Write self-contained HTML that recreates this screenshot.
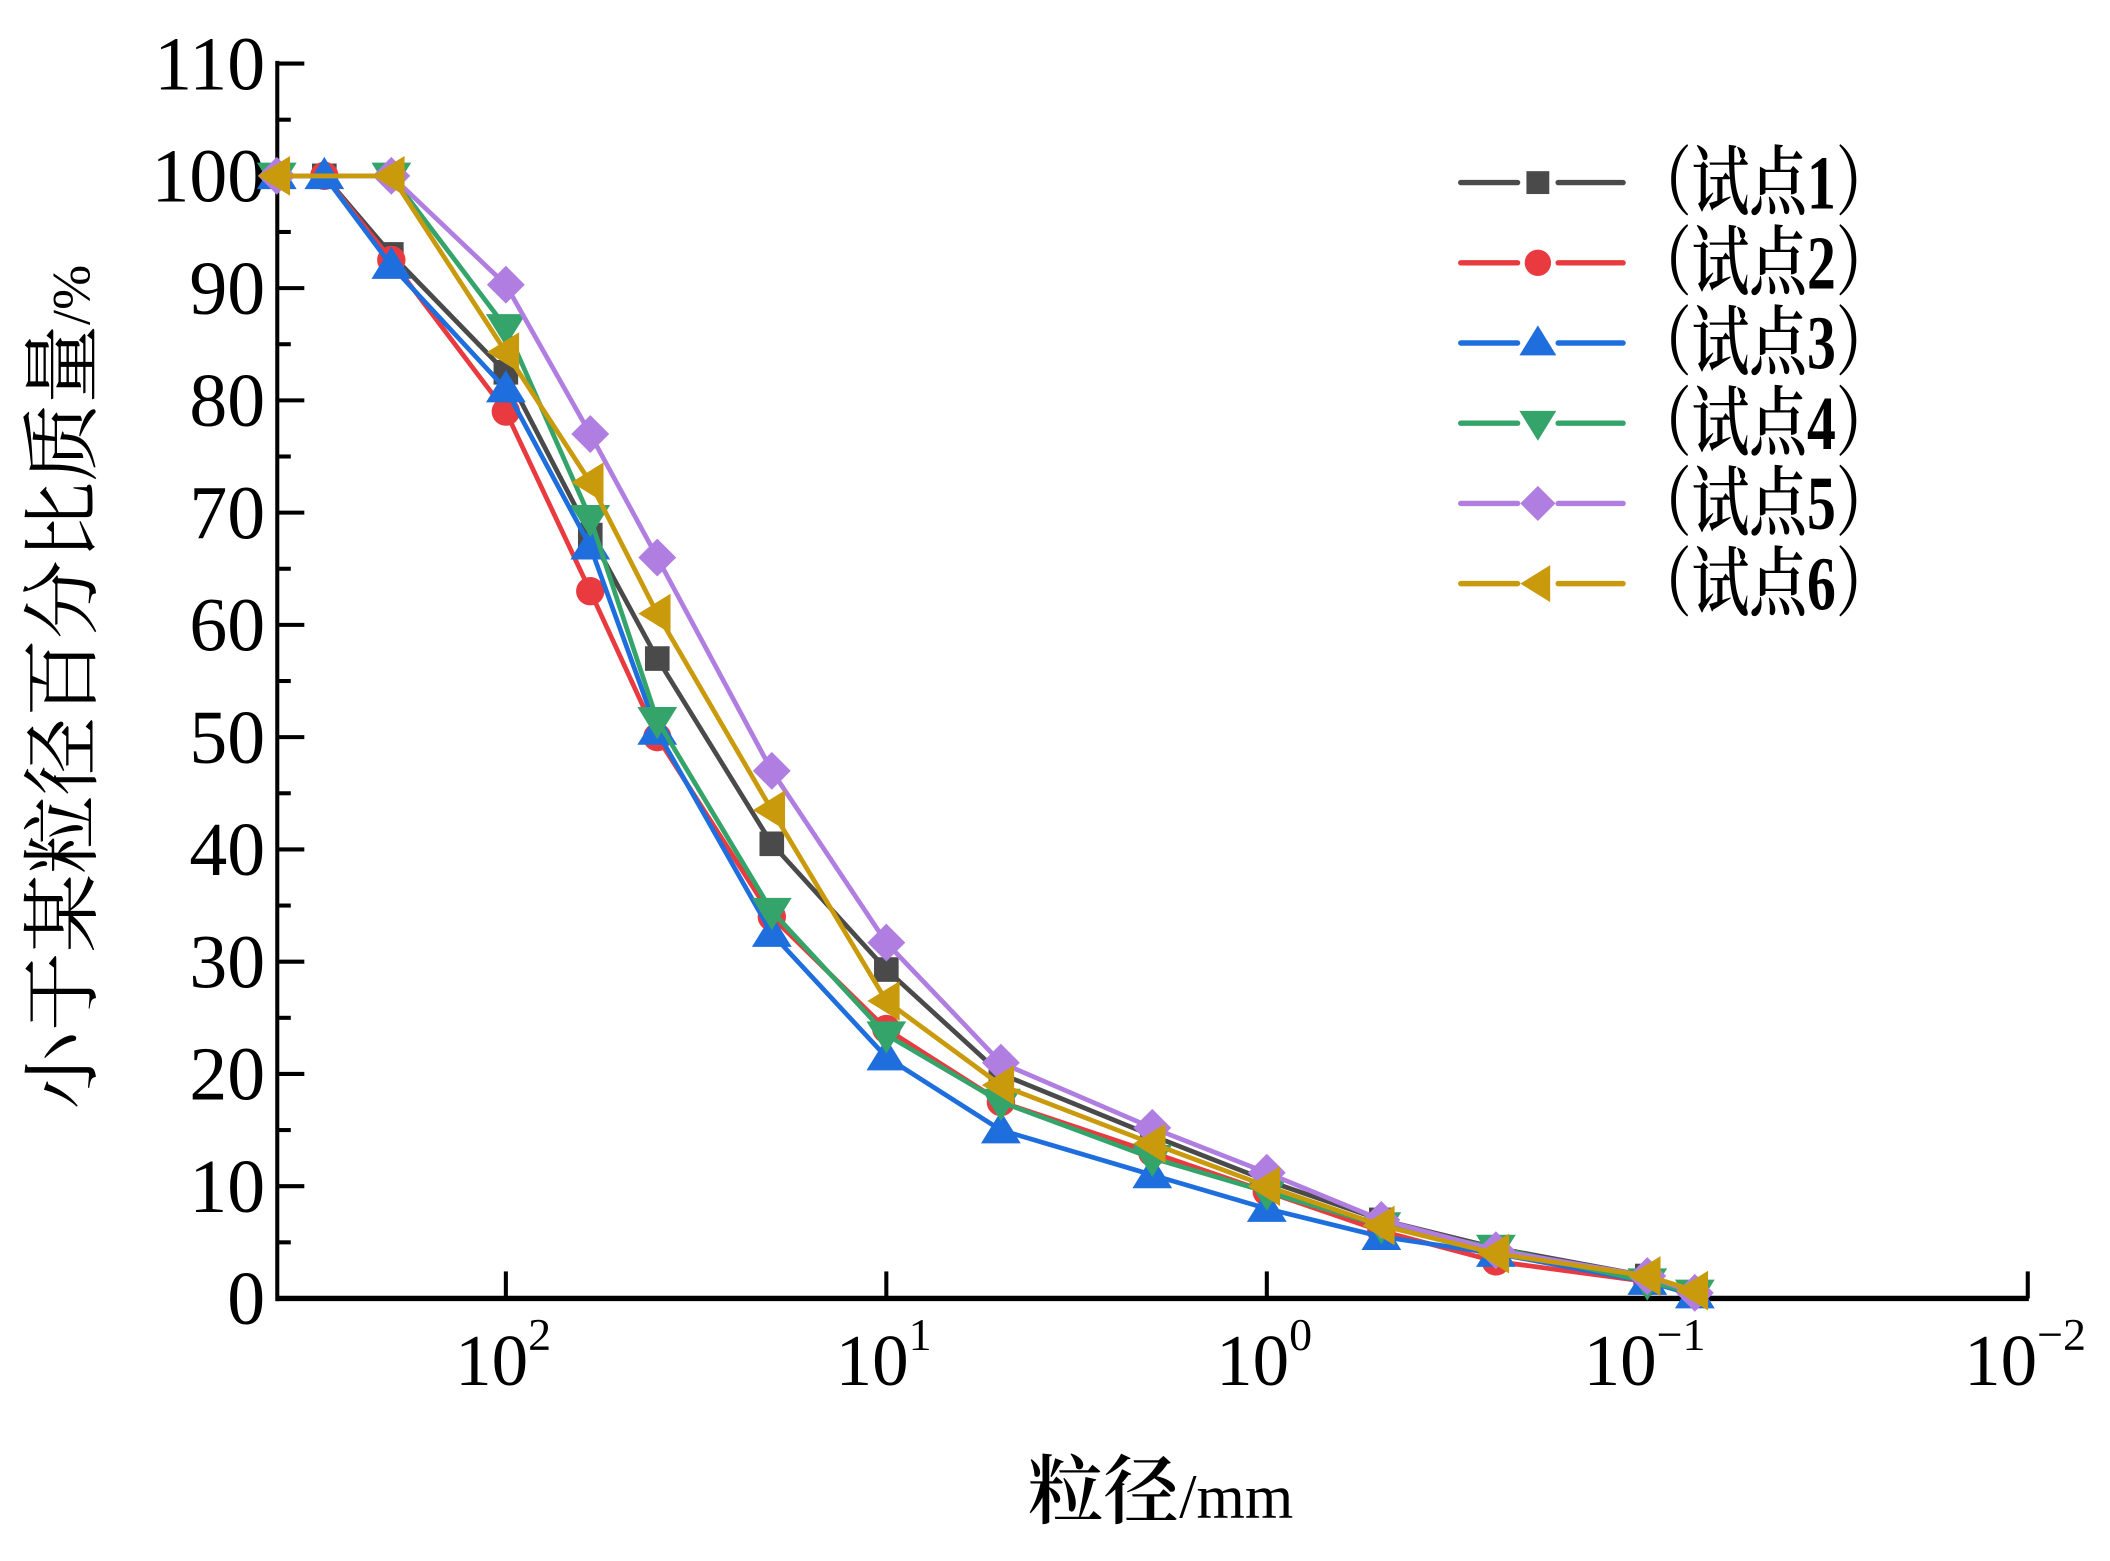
<!DOCTYPE html>
<html><head><meta charset="utf-8"><style>
html,body{margin:0;padding:0;background:#fff;}
svg{display:block;}
</style></head><body>
<svg id="chart" width="2110" height="1561" viewBox="0 0 1560 1154.1" preserveAspectRatio="none" xmlns="http://www.w3.org/2000/svg">
<g id="axes"></g>
<g id="series"></g>
<g id="legend"></g>
<text x="858" y="1122" text-anchor="middle" font-family="'Liberation Serif','Noto Serif CJK SC',serif" font-size="56" font-weight="600">粒径<tspan font-size="46" font-weight="normal">/mm</tspan></text>
<text transform="translate(66,508) rotate(-90)" text-anchor="middle" font-family="'Liberation Serif','Noto Serif CJK SC',serif" font-size="58">小于某粒径百分比质量<tspan font-size="40">/%</tspan></text>
</svg>
<script>
const sizes = [400, 300, 200, 100, 60, 40, 20, 10, 5, 2, 1, 0.5, 0.25, 0.1, 0.075];
const s1 = [100, 100, 93, 82.5, 68, 57, 40.5, 29.3, 20, 14.5, 10.5, 7, 4.5, 2, 0.5];
const s2 = [100, 100, 92.5, 79, 63, 50, 34, 24, 17.5, 13, 9.5, 6, 3.3, 1.5, 0.5];
const s3 = [100, 100, 92, 81, 67, 50.5, 32.5, 21.5, 15, 11, 8, 5.5, 4, 1.5, 0.3];
const s4 = [100, null, 100, 86.5, 69.5, 51.5, 34.5, 23.5, 17.5, 12.5, 9.5, 6.5, 4.5, 1.5, 0.5];
const s5 = [100, null, 100, 90.3, 77, 66, 47, 31.7, 21, 15.2, 11.2, 7, 4.3, 2, 0.5];
const s6 = [100, null, 100, 84.3, 72.7, 61, 43.5, 26.5, 19, 13.8, 10, 6.5, 4, 2, 0.7];
const seriesNames = ["（试点1）","（试点2）","（试点3）","（试点4）","（试点5）","（试点6）"];
const yTicks = [0,10,20,30,40,50,60,70,80,90,100,110];
const xTickExp = [2,1,0,-1,-2];

const NS="http://www.w3.org/2000/svg";
const X0=205,X1=1500,Y0=960,Y1=47;
function xs(d){return 374+(2-Math.log10(d))*281.3;}
function ys(v){return Y0-(v/110)*(Y0-Y1);}
function mk(tag,attrs,parent){const e=document.createElementNS(NS,tag);for(const k in attrs)e.setAttribute(k,attrs[k]);parent.appendChild(e);return e;}
const axes=document.getElementById('axes');
let e;
e=mk('line',{x1:X0,y1:Y1-2,x2:X0,y2:Y0+2,stroke:'#000','stroke-width':3},axes);


e=mk('line',{x1:X0-1,y1:Y0,x2:X1,y2:Y0,stroke:'#000','stroke-width':4},axes);


yTicks.forEach((t,i)=>{
  const y=ys(t);
  let l=mk('line',{x1:X0,y1:y,x2:X0+20,y2:y,stroke:'#000','stroke-width':3},axes);
  
  
  if(i<yTicks.length-1){
    let m=mk('line',{x1:X0,y1:ys(t+5),x2:X0+10,y2:ys(t+5),stroke:'#000','stroke-width':3},axes);
    
    
  }
  let tx=mk('text',{x:196,y:y+19,'text-anchor':'end','font-family':"'Liberation Serif',serif",'font-size':56},axes);
  tx.textContent=t;
  
  
});
xTickExp.forEach(p=>{
  const x=xs(Math.pow(10,p));
  let l=mk('line',{x1:x,y1:Y0,x2:x,y2:Y0-20,stroke:'#000','stroke-width':3},axes);
  
  
  let tx=mk('text',{x:x-2,y:1024,'text-anchor':'middle','font-family':"'Liberation Serif',serif",'font-size':54},axes);
  
  
  tx.textContent='10';
  let sp=mk('tspan',{dy:-26,'font-size':34},tx);
  sp.textContent=(p<0?'−':'')+Math.abs(p);
});
const colors=['#4a4a4a','#e83a3f','#1e6fdd','#35a46a','#b07ee0','#c99a0c'];
const shapes=['square','circle','up','down','diamond','left'];
const data=[s1,s2,s3,s4,s5,s6];
function marker(shape,x,y,c,parent,r){
  let el;
  if(shape==='square') el=mk('rect',{x:x-r*0.65,y:y-r*0.65,width:r*1.3,height:r*1.3,fill:c},parent);
  else if(shape==='circle') el=mk('circle',{cx:x,cy:y,r:r*0.75,fill:c},parent);
  else if(shape==='up') el=mk('polygon',{points:`${x},${y-r} ${x-r*1.05},${y+r*0.7} ${x+r*1.05},${y+r*0.7}`,fill:c},parent);
  else if(shape==='down') el=mk('polygon',{points:`${x},${y+r} ${x-r*1.05},${y-r*0.7} ${x+r*1.05},${y-r*0.7}`,fill:c},parent);
  else if(shape==='diamond') el=mk('polygon',{points:`${x},${y-r} ${x+r},${y} ${x},${y+r} ${x-r},${y}`,fill:c},parent);
  else el=mk('polygon',{points:`${x-r},${y} ${x+r*0.7},${y-r*1.05} ${x+r*0.7},${y+r*1.05}`,fill:c},parent);
  return el;
}
const sg=document.getElementById('series');
data.forEach((arr,i)=>{
  const g=mk('g',{},sg);
  
  
  const pts=[];
  arr.forEach((v,j)=>{if(v!==null)pts.push([xs(sizes[j]),ys(v)]);});
  let pl=mk('polyline',{points:pts.map(p=>p.join(',')).join(' '),fill:'none',stroke:colors[i],'stroke-width':3.5,'stroke-linejoin':'round'},g);
  
  
  pts.forEach(p=>{
    let m=marker(shapes[i],p[0],p[1],colors[i],g,14);
    
    
  });
});
const lg=document.getElementById('legend');
seriesNames.forEach((n,i)=>{
  const y=135+i*59.3;
  const g=mk('g',{},lg);
  
  
  mk('line',{x1:1080,y1:y,x2:1122,y2:y,stroke:colors[i],'stroke-width':4,'stroke-linecap':'round'},g);
  mk('line',{x1:1152,y1:y,x2:1200,y2:y,stroke:colors[i],'stroke-width':4,'stroke-linecap':'round'},g);
  let m=marker(shapes[i],1137,y,colors[i],g,13);
  
  
  let t=mk('text',{x:1208,y:y+19,'font-family':"'Liberation Serif','Noto Serif CJK SC',serif",'font-size':56,'font-weight':600,textLength:192,lengthAdjust:'spacingAndGlyphs'},g);
  t.textContent=n;
  
  
});
</script>
</body></html>
